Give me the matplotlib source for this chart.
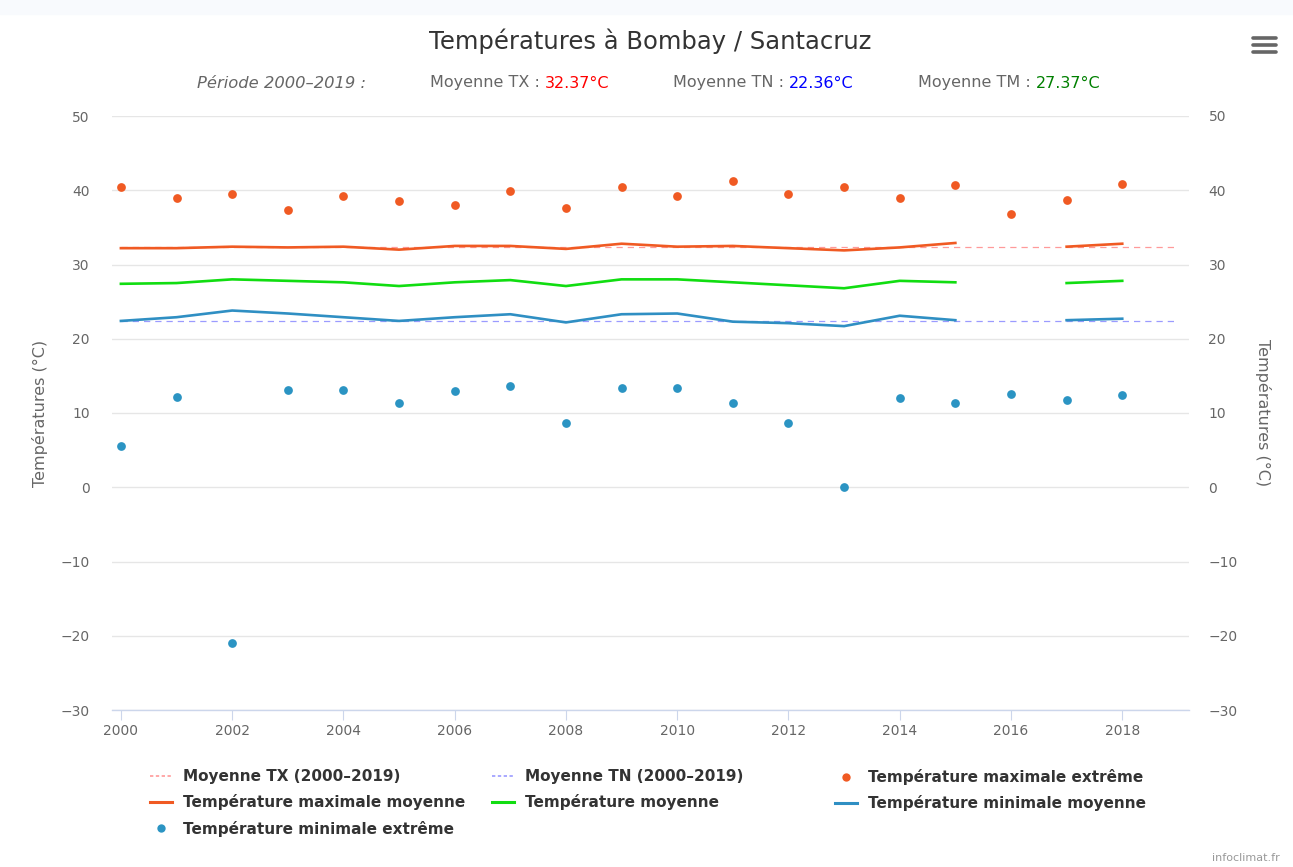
import numpy as np
import matplotlib.pyplot as plt
from matplotlib.lines import Line2D
from matplotlib.patches import Rectangle

# values
years = list(range(2000, 2019))
tx_extreme = [40.5, 38.9, 39.5, 37.4, 39.2, 38.5, 38.0, 39.9, 37.6, 40.5,
              39.2, 41.2, 39.5, 40.5, 39.0, 40.7, 36.8, 38.7, 40.9]
tx_mean = [32.2, 32.2, 32.4, 32.3, 32.4, 32.0, 32.5, 32.5, 32.1, 32.8,
           32.4, 32.5, 32.2, 31.9, 32.3, 32.9, None, 32.4, 32.8]
tm_mean = [27.4, 27.5, 28.0, 27.8, 27.6, 27.1, 27.6, 27.9, 27.1, 28.0,
           28.0, 27.6, 27.2, 26.8, 27.8, 27.6, None, 27.5, 27.8]
tn_mean = [22.4, 22.9, 23.8, 23.4, 22.9, 22.4, 22.9, 23.3, 22.2, 23.3,
           23.4, 22.3, 22.1, 21.7, 23.1, 22.5, None, 22.5, 22.7]
tn_extreme = [5.6, 12.2, -21.0, 13.1, 13.1, 11.4, 13.0, 13.7, 8.6, 13.4,
              13.4, 11.4, 8.7, 0.1, 12.0, 11.4, 12.6, 11.8, 12.4]
period_years = [2000, 2019]
period_tx = 32.37
period_tn = 22.36
period_tm = 27.37
yticks = list(range(-30, 60, 10))
xticks = list(range(2000, 2020, 2))

c_orange = '#f05a23'
c_green = '#11dd11'
c_blue = '#2f8fc3'
c_blue_dot = '#2b94c3'
c_tx_dash = '#ff9a9a'
c_tn_dash = '#9b9bff'
c_text = '#333333'
c_tick = '#666666'

plt.rcParams['font.family'] = ['DejaVu Sans']

fig = plt.figure(figsize=(12.93, 8.67), dpi=100)
fig.add_artist(Rectangle((0, 1-14/867), 1, 14/867, transform=fig.transFigure,
                         color='#f8fafd', zorder=0))
ax = fig.add_axes([112/1293, 1-710/867, (1189-112)/1293, (710-116)/867])

x = np.array(years)
ax.plot(period_years, [period_tx]*2, color=c_tx_dash, lw=0.9, ls=(0, (5, 4)), zorder=2)
ax.plot(period_years, [period_tn]*2, color=c_tn_dash, lw=0.9, ls=(0, (5, 4)), zorder=2)
ax.plot(x, np.array(tx_extreme), 'o', color=c_orange, ms=6.3, mec='none', zorder=4)
ax.plot(x, np.array(tx_mean, dtype=float), color=c_orange, lw=1.9, zorder=3)
ax.plot(x, np.array(tm_mean, dtype=float), color=c_green, lw=1.9, zorder=3)
ax.plot(x, np.array(tn_mean, dtype=float), color=c_blue, lw=1.9, zorder=3)
ax.plot(x, np.array(tn_extreme), 'o', color=c_blue_dot, ms=6.3, mec='none', zorder=4)

ax.set_xlim(1999.84, 2019.2)
ax.set_ylim(-30, 50)
ax.set_yticks(yticks)
ax.set_xticks(xticks)
ax.grid(axis='y', color='#e6e6e6', lw=1)
ax.set_axisbelow(True)
for s in ['top', 'left', 'right']:
    ax.spines[s].set_visible(False)
ax.spines['bottom'].set_color('#ccd6eb')
ax.spines['bottom'].set_linewidth(1)
ax.tick_params(axis='x', length=7, color='#ccd6eb', labelcolor=c_tick, labelsize=10, pad=3)
ax.tick_params(axis='y', length=0, labelcolor=c_tick, labelsize=10, pad=16)
ax.set_ylabel('Températures (°C)', color=c_tick, fontsize=11.5, labelpad=9)

ax2 = ax.twinx()
ax2.set_ylim(-30, 50)
ax2.set_yticks(yticks)
for s in ax2.spines.values():
    s.set_visible(False)
ax2.tick_params(axis='y', length=0, labelcolor=c_tick, labelsize=10, pad=14)
ax2.set_ylabel('Températures (°C)', color=c_tick, fontsize=11.5, rotation=270, labelpad=24)

# title and subtitle
fig.text(650/1293, 1-41/867, 'Températures à Bombay / Santacruz', ha='center', va='center',
         fontsize=17.5, color=c_text)
sub_y = 1-83/867
fig.text(197/1293, sub_y, 'Période 2000–2019 :', ha='left', va='center', fontsize=11.8,
         color=c_tick, style='italic')
for xl, lab, val, col in [(430, 'Moyenne TX : ', period_tx, '#ff0000'),
                          (673, 'Moyenne TN : ', period_tn, '#0000ff'),
                          (918, 'Moyenne TM : ', period_tm, '#008000')]:
    t = fig.text(xl/1293, sub_y, lab, ha='left', va='center', fontsize=11.5, color=c_tick)
    fig.canvas.draw()
    bb = t.get_window_extent()
    fig.text(bb.x1/1293, sub_y, '%.2f°C' % val, ha='left', va='center', fontsize=11.5, color=col)

# legend, laid out in three columns like the original
def dash_h(c):
    return Line2D([], [], color=c, lw=1.2, ls=(0, (2, 1.5)))

def line_h(c):
    return Line2D([], [], color=c, lw=2.2)

def dot_h(c):
    return Line2D([], [], color=c, marker='o', ls='none', ms=6, mec='none')

cols = [
    (150, [dash_h(c_tx_dash), line_h(c_orange), dot_h(c_blue_dot)],
     ['Moyenne TX (2000–2019)', 'Température maximale moyenne', 'Température minimale extrême']),
    (492, [dash_h(c_tn_dash), line_h(c_green)],
     ['Moyenne TN (2000–2019)', 'Température moyenne']),
    (835, [dot_h(c_orange), line_h(c_blue)],
     ['Température maximale extrême', 'Température minimale moyenne']),
]
for xl, hs, ls in cols:
    fig.legend(hs, ls, loc='upper left', bbox_to_anchor=(xl/1293, 1-769/867), frameon=False,
               borderpad=0, borderaxespad=0, handlelength=1.45, handletextpad=0.7,
               labelspacing=0.68, prop={'weight': 'bold', 'size': 11}, labelcolor=c_text)

# export menu icon and credit
for yy in [38, 45, 52]:
    fig.add_artist(Line2D([1253/1293, 1276/1293], [1-yy/867]*2, color='#666666', lw=2.6,
                          solid_capstyle='round'))
fig.text(1280/1293, 1-858/867, 'infoclimat.fr', ha='right', va='center', fontsize=8, color='#999999')

fig.savefig('out.png', dpi=100)
